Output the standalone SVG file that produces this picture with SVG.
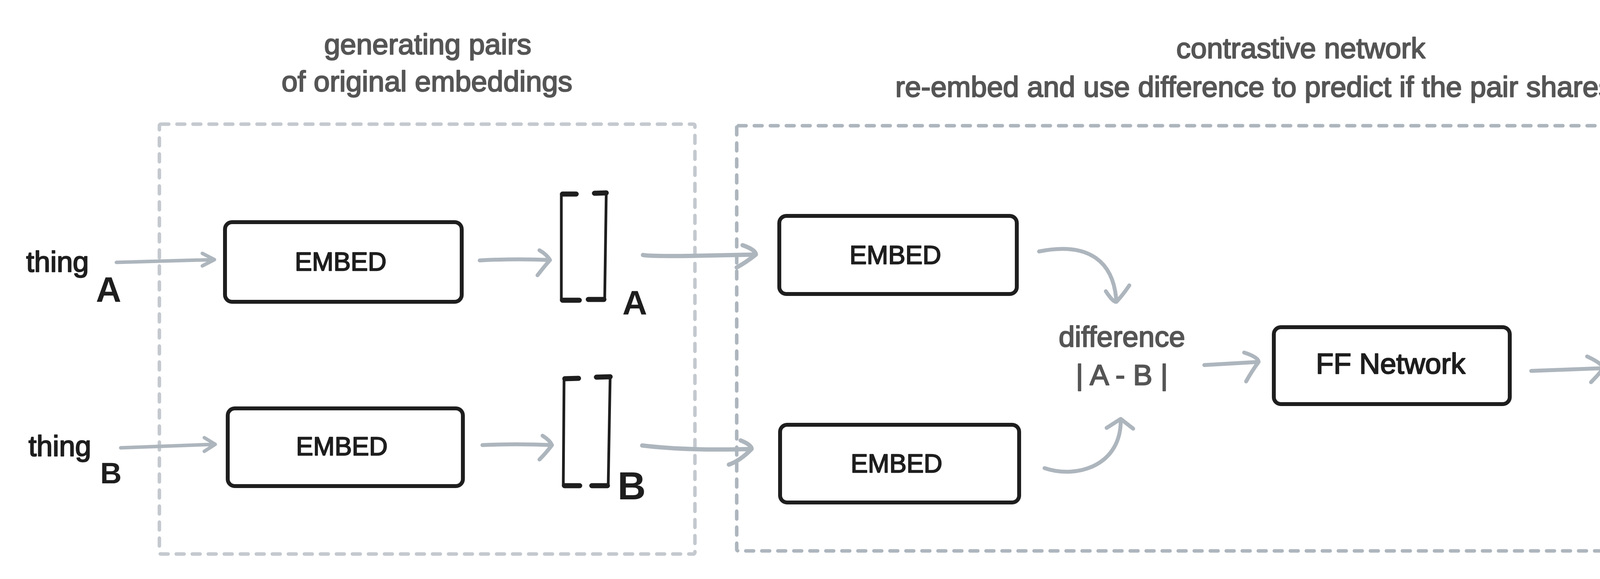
<svg xmlns="http://www.w3.org/2000/svg" width="4751" height="1483" viewBox="0 0 4751 1483">
<style>
.title{font-family:"Liberation Sans",Arial,sans-serif;font-size:74px;fill:#555555;text-anchor:middle;stroke:#555555;stroke-width:2.6;stroke-linejoin:round}
.lbl{font-family:"Liberation Sans",Arial,sans-serif;font-size:74px;fill:#1e1e1e;stroke:#1e1e1e;stroke-width:2.6;stroke-linejoin:round}
.emb{font-family:"Liberation Sans",Arial,sans-serif;font-size:66px;fill:#1e1e1e;text-anchor:middle;stroke:#1e1e1e;stroke-width:2.4;stroke-linejoin:round}
.sub{font-family:"Liberation Sans",Arial,sans-serif;font-weight:bold;fill:#1e1e1e;text-anchor:middle}
.box{fill:#ffffff;stroke:#1e1e1e;stroke-width:10;stroke-linejoin:round}
.grpL{fill:none;stroke:#c4c9cf;stroke-width:9;stroke-dasharray:20 21;stroke-linecap:round}
.grpR{fill:none;stroke:#adb5bd;stroke-width:9;stroke-dasharray:20 21;stroke-linecap:round}
.arr{fill:none;stroke:#adb5bd;stroke-width:10;stroke-linecap:round;stroke-linejoin:round}
.brk{fill:none;stroke:#1e1e1e;stroke-width:7;stroke-linecap:round;stroke-linejoin:round}
.ser{fill:none;stroke:#1e1e1e;stroke-width:13;stroke-linecap:round}
</style>
<rect width="4751" height="1483" fill="#ffffff"/>

<g id="group-original">
<rect class="grpL" x="408" y="318" width="1371" height="1101" rx="4"/>
<text class="title" x="1095" y="139">generating pairs</text>
<text class="title" x="1093" y="234">of original embeddings</text>
</g>
<g id="group-contrastive">
<rect class="grpR" x="1886" y="322" width="2802" height="1089" rx="4"/>
<text class="title" x="3330" y="149">contrastive network</text>
<text class="title" x="3330" y="248">re-embed and use difference to predict if the pair shares a label</text>
</g>

<g id="thingA">
<text class="lbl" x="67" y="696">thing</text>
<text class="sub" x="278" y="773" font-size="90">A</text>
</g>
<g id="thingB">
<text class="lbl" x="73" y="1168">thing</text>
<text class="sub" x="284" y="1238" font-size="76">B</text>
</g>

<g id="embedA1">
<rect class="box" x="576" y="569" width="606" height="204" rx="18"/>
<text class="emb" x="872" y="693">EMBED</text>
</g>
<g id="embedB1">
<rect class="box" x="583" y="1046" width="602" height="199" rx="18"/>
<text class="emb" x="875" y="1166">EMBED</text>
</g>

<g id="vecA">
<path class="brk" d="M1475 497 L1437 497 L1437 769 L1483 769"/>
<path class="brk" d="M1519 495 L1552 494 L1548 767 L1506 767"/>
<path class="ser" d="M1440 497 L1475 497 M1440 769 L1483 769 M1522 495 L1552 494 M1506 767 L1546 767"/>
<text class="sub" x="1625" y="805" font-size="88">A</text>
</g>
<g id="vecB">
<path class="brk" d="M1481 969 L1444 970 L1442 1244 L1484 1244"/>
<path class="brk" d="M1524 966 L1562 965 L1557 1244 L1515 1244"/>
<path class="ser" d="M1446 970 L1481 969 M1445 1244 L1484 1244 M1527 966 L1562 965 M1515 1244 L1555 1244"/>
<text class="sub" x="1617" y="1279" font-size="100">B</text>
</g>

<g id="embedA2">
<rect class="box" x="1995" y="553" width="608" height="200" rx="18"/>
<text class="emb" x="2292" y="676">EMBED</text>
</g>
<g id="embedB2">
<rect class="box" x="1997" y="1088" width="612" height="199" rx="18"/>
<text class="emb" x="2295" y="1210">EMBED</text>
</g>

<g id="difference">
<text class="title" x="2872" y="888">difference</text>
<text class="title" x="2872" y="986" font-size="70">| A - B |</text>
</g>

<g id="ffnet">
<rect class="box" x="3261" y="838" width="604" height="197" rx="18"/>
<text class="lbl" x="3560" y="957" text-anchor="middle">FF Network</text>
</g>

<g id="samelabel">
<text class="lbl" x="4165" y="958">same label?</text>
</g>

<g id="connectors">
<path class="arr" style="stroke-width:9" d="M298 672 L549 665 M518 649 L549 665 L518 681"/>
<path class="arr" style="stroke-width:9" d="M309 1147 L551 1138 M523 1121 L551 1138 L523 1156"/>
<path class="arr" d="M1228 667 Q1320 662 1408 666 M1381 641 Q1400 652 1408 666 Q1392 684 1376 705"/>
<path class="arr" d="M1235 1140 Q1320 1136 1413 1140 M1389 1116 Q1408 1128 1413 1140 Q1398 1160 1381 1177"/>
<path class="arr" style="stroke-width:11" d="M1646 653 Q1660 657 1790 655 L1935 652 M1901 628 Q1935 640 1935 652 Q1910 672 1886 685"/>
<path class="arr" style="stroke-width:11" d="M1644 1141 Q1760 1155 1924 1150 M1896 1128 Q1925 1140 1924 1150 Q1895 1180 1866 1190"/>
<path class="arr" d="M2660 644 C2790 618 2852 672 2858 773 M2831 746 Q2850 775 2858 773 Q2875 755 2891 731"/>
<path class="arr" d="M2674 1199 C2760 1228 2872 1190 2869 1073 M2833 1096 L2869 1073 L2901 1098"/>
<path class="arr" d="M3083 935 L3222 927 M3185 903 Q3222 915 3222 927 Q3205 950 3190 977"/>
<path class="arr" d="M3920 950 L4105 943 M4063 913 Q4100 930 4105 943 Q4090 962 4073 979"/>
</g>
</svg>
